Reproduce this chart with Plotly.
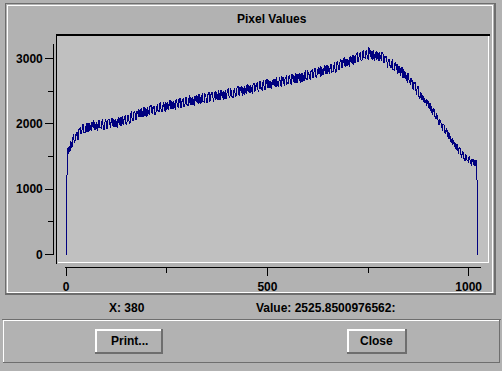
import plotly.graph_objects as go

# ---- data -------------------------------------------------------------
# samples at x = 0, 4, 8, ..., 1020
values_step4 = [
    0, 1530, 1660, 1630, 1790, 1705, 1830, 1765, 1920, 1850,
    1985, 1865, 1970, 1870, 2005, 1913, 2030, 1933, 1996, 1915,
    2055, 1943, 2036, 1934, 2027, 1920, 2058, 1971, 2094, 1962,
    2050, 1951, 2077, 1988, 2104, 1990, 2080, 2000, 2135, 2045,
    2170, 2047, 2159, 2056, 2188, 2110, 2218, 2136, 2249, 2122,
    2225, 2146, 2267, 2163, 2269, 2145, 2267, 2198, 2310, 2192,
    2283, 2195, 2326, 2231, 2362, 2233, 2333, 2234, 2355, 2260,
    2375, 2280, 2351, 2256, 2406, 2297, 2392, 2292, 2393, 2293,
    2423, 2339, 2454, 2329, 2420, 2329, 2463, 2353, 2457, 2336,
    2456, 2380, 2484, 2369, 2458, 2372, 2512, 2401, 2495, 2385,
    2514, 2428, 2548, 2418, 2514, 2410, 2541, 2447, 2563, 2469,
    2540, 2456, 2597, 2488, 2584, 2485, 2586, 2487, 2618, 2534,
    2650, 2526, 2617, 2528, 2664, 2555, 2660, 2541, 2661, 2586,
    2691, 2577, 2667, 2582, 2723, 2613, 2708, 2598, 2729, 2644,
    2764, 2634, 2730, 2625, 2755, 2661, 2776, 2683, 2755, 2672,
    2815, 2707, 2804, 2706, 2808, 2711, 2843, 2760, 2877, 2754,
    2847, 2759, 2896, 2789, 2896, 2778, 2900, 2827, 2935, 2822,
    2939, 2856, 2998, 2891, 2988, 2880, 3013, 2931, 3054, 2927,
    3050, 2948, 3081, 2988, 3104, 3010, 3081, 2997, 3180, 3018,
    3116, 2989, 3102, 2973, 3084, 2990, 3089, 2932, 3043, 2931,
    2993, 2885, 2958, 2825, 2923, 2820, 2904, 2783, 2867, 2701,
    2805, 2694, 2768, 2642, 2696, 2560, 2642, 2511, 2576, 2415,
    2490, 2368, 2431, 2314, 2377, 2245, 2310, 2171, 2238, 2115,
    2167, 2035, 2072, 1944, 2001, 1887, 1939, 1806, 1851, 1721,
    1776, 1654, 1711, 1584, 1636, 1527, 1586, 1475, 1529, 1431,
    1490, 1394, 1463, 1371, 1438, 1360,
]
# samples at x = 2, 6, 10, ..., 1018
values_mid = [
    1590, 1645, 1580, 1720, 1805, 1740, 1825, 1765, 1915, 1865,
    1983, 1867, 1940, 2005, 1889, 1992, 1951, 2025, 1903, 1998,
    2047, 1945, 1998, 1910, 2039, 1972, 2075, 1948, 2011, 2069,
    1948, 2049, 2010, 2086, 1967, 2065, 2120, 2025, 2085, 2005,
    2141, 2083, 2195, 2077, 2149, 2214, 2097, 2200, 2163, 2241,
    2123, 2219, 2270, 2171, 2227, 2144, 2275, 2212, 2319, 2195,
    2262, 2323, 2204, 2304, 2265, 2341, 2221, 2317, 2368, 2268,
    2323, 2238, 2369, 2304, 2409, 2285, 2350, 2410, 2291, 2391,
    2351, 2427, 2307, 2402, 2452, 2351, 2406, 2320, 2449, 2384,
    2488, 2362, 2427, 2486, 2365, 2465, 2424, 2498, 2378, 2472,
    2521, 2421, 2476, 2391, 2522, 2458, 2564, 2440, 2506, 2567,
    2448, 2549, 2510, 2586, 2467, 2563, 2614, 2515, 2571, 2487,
    2618, 2554, 2660, 2536, 2602, 2663, 2543, 2643, 2603, 2679,
    2559, 2654, 2705, 2605, 2660, 2576, 2706, 2641, 2746, 2622,
    2687, 2747, 2627, 2728, 2688, 2763, 2645, 2742, 2794, 2696,
    2754, 2671, 2803, 2740, 2847, 2725, 2792, 2854, 2736, 2838,
    2801, 2878, 2760, 2858, 2910, 2812, 2869, 2786, 2919, 2856,
    2988, 2865, 2932, 2995, 2877, 2979, 2942, 3020, 2903, 3001,
    3079, 2982, 3040, 2956, 3087, 3023, 3129, 3003, 3064, 3117,
    2980, 3073, 3025, 3091, 2962, 3047, 3083, 2965, 3002, 2900,
    2971, 2889, 2976, 2834, 2881, 2920, 2773, 2847, 2781, 2830,
    2684, 2748, 2762, 2626, 2645, 2526, 2619, 2513, 2578, 2412,
    2439, 2442, 2325, 2358, 2296, 2320, 2200, 2227, 2219, 2106,
    2103, 2001, 2043, 1955, 1991, 1868, 1875, 1871, 1746, 1771,
    1702, 1717, 1595, 1627, 1626, 1524, 1533, 1447, 1507, 1438,
    1492, 1386, 1417, 1442, 1349,
]
# samples at x = 3, 7, 11, ..., 1019
values_q3 = [
    1635, 1540, 1740, 1650, 1845, 1735, 1880, 1775, 1950, 1840,
    1995, 1855, 2015, 1870, 2018, 1895, 2053, 1906, 2025, 1895,
    2053, 1926, 2069, 1917, 2070, 1918, 2061, 1934, 2092, 1945,
    2066, 1937, 2098, 1974, 2120, 1975, 2135, 1990, 2140, 2020,
    2187, 2049, 2176, 2053, 2220, 2098, 2246, 2099, 2257, 2110,
    2256, 2132, 2293, 2149, 2270, 2142, 2303, 2180, 2327, 2178,
    2335, 2186, 2331, 2207, 2368, 2223, 2344, 2215, 2375, 2250,
    2395, 2246, 2401, 2251, 2397, 2272, 2432, 2288, 2408, 2278,
    2439, 2314, 2459, 2310, 2464, 2313, 2458, 2332, 2491, 2346,
    2465, 2334, 2494, 2368, 2512, 2362, 2516, 2365, 2510, 2384,
    2543, 2398, 2518, 2389, 2550, 2426, 2572, 2423, 2579, 2430,
    2576, 2452, 2613, 2469, 2590, 2461, 2622, 2498, 2644, 2495,
    2651, 2502, 2648, 2524, 2685, 2540, 2661, 2531, 2691, 2566,
    2712, 2562, 2717, 2568, 2713, 2588, 2748, 2604, 2724, 2594,
    2754, 2630, 2775, 2625, 2781, 2631, 2778, 2655, 2817, 2675,
    2797, 2669, 2831, 2708, 2856, 2708, 2865, 2717, 2864, 2742,
    2904, 2761, 2884, 2756, 2918, 2795, 2942, 2795, 2952, 2829,
    2976, 2853, 3016, 2873, 2995, 2868, 3031, 2909, 3057, 2935,
    3093, 2946, 3093, 2969, 3130, 2986, 3107, 2975, 3128, 2986,
    3124, 2967, 3113, 2954, 3090, 2954, 3097, 2933, 3036, 2848,
    2990, 2848, 2975, 2808, 2945, 2769, 2888, 2737, 2871, 2700,
    2794, 2628, 2752, 2591, 2700, 2517, 2631, 2441, 2545, 2380,
    2473, 2326, 2399, 2272, 2350, 2220, 2271, 2133, 2205, 2072,
    2135, 1977, 2049, 1896, 1972, 1839, 1911, 1761, 1811, 1671,
    1744, 1616, 1684, 1541, 1622, 1481, 1560, 1439, 1526, 1400,
    1474, 1358, 1456, 1353, 1445,
]
tail_x = [1022, 1023]
tail_values = [720, 0]

x_ticks = [0, 500, 1000]
y_ticks = [0, 1000, 2000, 3000]
title_text = "Pixel Values"
status_x = "X: 380"
status_value = "Value: 2525.8500976562:"
buttons = ["Print...", "Close"]

# merge the sample lists in x order
sample_x, sample_y = [], []
for i, v in enumerate(values_step4):
    sample_x.append(4 * i)
    sample_y.append(v)
    if i < len(values_mid):
        sample_x.append(4 * i + 2)
        sample_y.append(values_mid[i])
    if i < len(values_q3):
        sample_x.append(4 * i + 3)
        sample_y.append(values_q3[i])
sample_x += tail_x
sample_y += tail_values

# ---- layout helpers ---------------------------------------------------
W, H = 502, 371
BG = "#b2b2b2"
PLOT_BG = "#c0c0c0"
DARK = "#6e6e6e"
WHITE = "#ffffff"
FONT = dict(family="Liberation Sans, Arial, sans-serif", size=12, color="black", weight="bold")


def px(x):
    return x / W


def py(y):
    return 1 - y / H


shapes = []


def hline(x0, x1, y, color, w=1):
    shapes.append(dict(type="line", xref="paper", yref="paper", x0=px(x0), x1=px(x1),
                       y0=py(y), y1=py(y), line=dict(color=color, width=w), layer="below"))


def vline(x, y0, y1, color, w=1):
    shapes.append(dict(type="line", xref="paper", yref="paper", x0=px(x), x1=px(x),
                       y0=py(y0), y1=py(y1), line=dict(color=color, width=w), layer="below"))


# plot area background and sunken border
shapes.append(dict(type="rect", xref="paper", yref="paper", x0=px(54), x1=px(490),
                   y0=py(268), y1=py(35), fillcolor=PLOT_BG, line=dict(width=0), layer="below"))
hline(54, 491, 35.8, "black", 1.6)
vline(54.8, 35, 269, "black", 1.6)
hline(56, 490, 267.5, WHITE, 1)
vline(489.5, 37, 268, WHITE, 1)

# top panel etched frame
hline(3, 497, 3.5, DARK, 1)
hline(5, 494, 5.5, WHITE, 1)
vline(3.5, 3, 301, DARK, 1)
vline(5.5, 5, 299, WHITE, 1)
vline(493.5, 5, 299, WHITE, 1)
vline(496, 3, 301, DARK, 2)
hline(5, 494, 298.5, WHITE, 1)
hline(3, 497, 300, DARK, 2)

# bottom panel
hline(0, 502, 325.5, DARK, 1)
hline(1, 500, 326.5, WHITE, 1)
vline(1.5, 326, 370, WHITE, 1)
hline(1, 501, 369.5, DARK, 1)
vline(500.5, 326, 370, DARK, 1)

# buttons
button_boxes = [(94, 162), (347, 407)]
for (bx0, bx1) in button_boxes:
    hline(bx0, bx1, 336, WHITE, 2)
    vline(bx0 + 1, 335, 361, WHITE, 2)
    hline(bx0, bx1, 360, DARK, 2)
    vline(bx1 - 1, 335, 361, DARK, 2)

annotations = [
    dict(text=title_text, x=px(272), y=py(19.5)),
    dict(text=status_x, x=px(125.5), y=py(313.5)),
    dict(text=status_value, x=px(254), y=py(313.5), xanchor="left"),
    dict(text=buttons[0], x=px(128), y=py(347.5)),
    dict(text=buttons[1], x=px(377), y=py(347.5)),
]
for a in annotations:
    a.update(xref="paper", yref="paper", showarrow=False, font=FONT, yanchor="middle")
    a.setdefault("xanchor", "center")

fig = go.Figure(go.Scatter(x=sample_x, y=sample_y, mode="lines",
                           line=dict(color="#000080", width=1), hoverinfo="skip"))

fig.update_layout(
    width=W, height=H, autosize=False,
    margin=dict(l=0, r=0, t=0, b=0, pad=0),
    paper_bgcolor=BG, plot_bgcolor="rgba(0,0,0,0)",
    showlegend=False, shapes=shapes, annotations=annotations,
    xaxis=dict(domain=[px(63), px(482)], range=[-3.7, 1030.9], anchor="free",
               position=py(272.5), showline=True, linecolor="black", linewidth=1,
               ticks="outside", ticklen=8, tickwidth=1, tickcolor="black",
               tickmode="array", tickvals=x_ticks, ticktext=[str(v) for v in x_ticks],
               minor=dict(ticks="outside", ticklen=5, tickwidth=1, tickcolor="black", dtick=250, tick0=0),
               showgrid=False, zeroline=False, tickfont=FONT, fixedrange=True),
    yaxis=dict(domain=[py(260), py(45)], range=[-7.5, 3217.5], anchor="free",
               position=px(51.5), showline=True, linecolor="black", linewidth=1,
               ticks="outside", ticklen=8, tickwidth=1, tickcolor="black",
               tickmode="array", tickvals=y_ticks, ticktext=[str(v) for v in y_ticks],
               minor=dict(ticks="outside", ticklen=5, tickwidth=1, tickcolor="black", dtick=500, tick0=0),
               showgrid=False, zeroline=False, tickfont=FONT, fixedrange=True),
)

post = (
    "document.body.style.margin='0';document.body.style.padding='0';"
    "document.querySelectorAll('.scatterlayer path, .shapelayer path').forEach("
    "function(p){p.style.shapeRendering='crispEdges';});"
)
fig.write_html("out.html", config=dict(displayModeBar=False), post_script=post)
